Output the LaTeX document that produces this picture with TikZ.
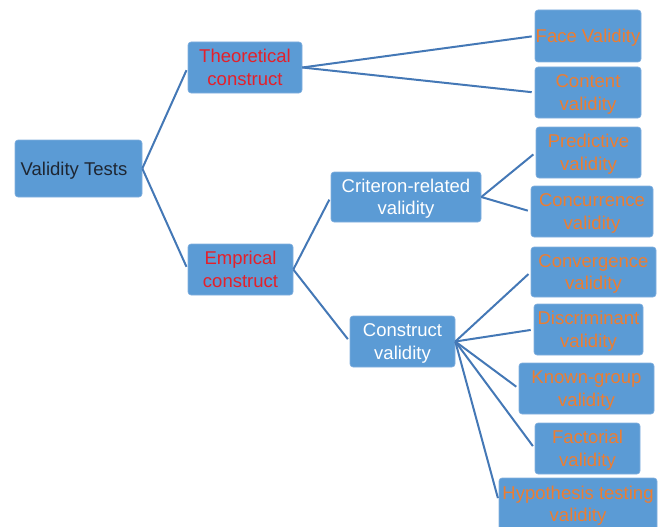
\documentclass[tikz,border=0pt]{standalone}
\usepackage{fontspec}
\setmainfont{Liberation Sans}
\definecolor{boxblue}{RGB}{91,155,213}
\definecolor{boxedge}{RGB}{130,175,222}
\definecolor{linkblue}{RGB}{68,120,182}
\definecolor{redtext}{RGB}{228,32,42}
\definecolor{orangetext}{RGB}{237,125,49}
\definecolor{darktext}{RGB}{30,38,50}
\tikzset{
  box/.style={rectangle, rounded corners=3pt, fill=boxblue, draw=boxedge, line width=0.6pt,
    align=center, inner sep=0pt, text depth=-3pt, font=\fontsize{18.5}{22.5}\selectfont},
  leaf/.style={box, text=orangetext},
  link/.style={draw=linkblue, line width=2pt, shorten >=3pt}
}
\begin{document}
\begin{tikzpicture}[x=1pt,y=-1pt]
\useasboundingbox (0,0) rectangle (664,527);

\node[box, text=darktext, minimum width=127pt, minimum height=57pt] (vt) at (78.5,168.5) {Validity Tests\hspace*{9pt}};
\node[box, text=redtext, minimum width=114pt, minimum height=51pt] (theo) at (245,67.5) {Theoretical\\construct};
\node[box, text=redtext, minimum width=105pt, minimum height=51pt] (emp) at (240.5,269.5) {Emprical\\construct};
\node[box, text=white, minimum width=150pt, minimum height=50pt] (crit) at (406,197) {Criteron-related\\validity};
\node[box, text=white, minimum width=105pt, minimum height=51pt] (cons) at (402.5,341.5) {Construct\\validity};

\node[leaf, minimum width=106pt, minimum height=52pt] (face) at (588,36) {Face Validity};
\node[leaf, minimum width=106pt, minimum height=51pt] (cont) at (588,92.5) {Content\\validity};
\node[leaf, minimum width=105pt, minimum height=51pt] (pred) at (588.5,152.5) {Predictive\\validity};
\node[leaf, minimum width=122pt, minimum height=51pt] (conc) at (592,211.5) {Concurrence\\validity};
\node[leaf, minimum width=125pt, minimum height=50pt] (conv) at (593.5,272) {Convergence\\validity};
\node[leaf, minimum width=109pt, minimum height=51pt] (disc) at (588.5,329.5) {Discriminant\\validity};
\node[leaf, minimum width=135pt, minimum height=51pt] (known) at (586.5,388.5) {Known-group\\validity};
\node[leaf, minimum width=105pt, minimum height=51pt] (fact) at (587.5,448.5) {Factorial\\validity};
\node[leaf, minimum width=158pt, minimum height=52pt] (hyp) at (578,504) {Hypothesis testing\\validity};

\draw[link] (vt.east) -- (theo.west);
\draw[link] (vt.east) -- (emp.west);
\draw[link] (theo.east) -- (face.west);
\draw[link] (theo.east) -- (cont.west);
\draw[link] (emp.east) -- (crit.west);
\draw[link] (emp.east) -- (cons.west);
\draw[link] (crit.east) -- (pred.west);
\draw[link] (crit.east) -- (conc.west);
\foreach \n in {conv,disc,known,fact}
  \draw[link] (cons.east) -- (\n.west);
\draw[link] (cons.east) -- ([yshift=3pt]hyp.west);
\end{tikzpicture}
\end{document}
